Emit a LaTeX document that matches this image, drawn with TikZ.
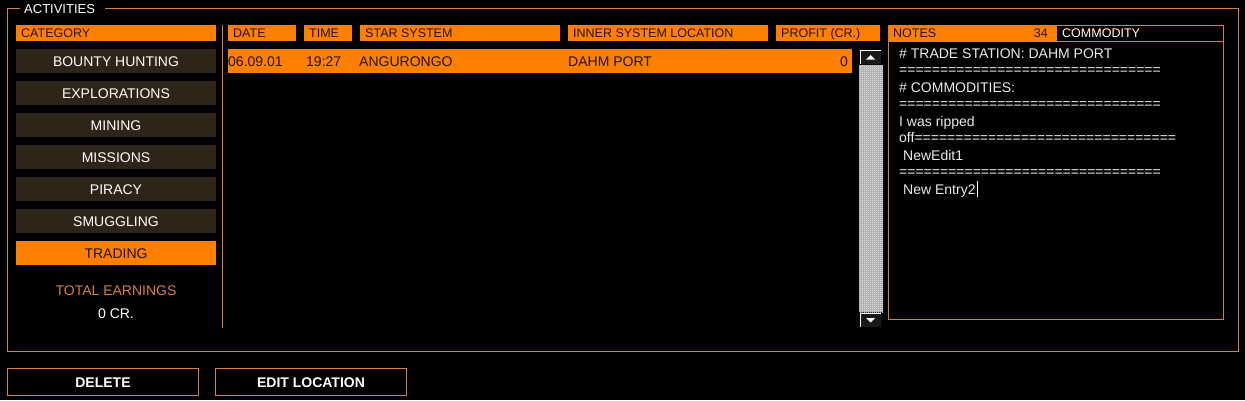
\documentclass[tikz,border=0pt]{standalone}
\usepackage{fontspec}
\setmainfont{Liberation Sans}
\usetikzlibrary{patterns}

% fine 1pt checker for the scroll track
\pgfdeclarepatternformonly{finechecker}{\pgfpointorigin}{\pgfqpoint{2pt}{2pt}}{\pgfqpoint{2pt}{2pt}}{%
  \pgfpathrectangle{\pgfpointorigin}{\pgfqpoint{1pt}{1pt}}%
  \pgfpathrectangle{\pgfqpoint{1pt}{1pt}}{\pgfqpoint{1pt}{1pt}}%
  \pgfusepath{fill}}

\newcommand{\eqrow}{================================}

\begin{document}
\begin{tikzpicture}[x=1pt, y=-1pt,
  txt/.style={inner sep=0pt, text height=10pt, text depth=0pt, font=\fontsize{14}{16}\selectfont},
  hdr/.style={txt, text height=9pt, font=\fontsize{12.5}{14}\selectfont, text=ink},
  note/.style={txt, anchor=west, text=paper},
  catbox/.style={txt, minimum width=200, minimum height=24, fill=bark, text=white},
  button/.style={txt, minimum width=191, minimum height=27, draw=rim, fill=black, text=white, font=\bfseries\fontsize{14}{16}\selectfont},
  rimline/.style={draw=rim, line width=1pt}]
\definecolor{rim}{HTML}{D8803A}
\definecolor{amber}{HTML}{FF8000}
\definecolor{bark}{HTML}{2E2418}
\definecolor{ink}{HTML}{1E1205}
\definecolor{paper}{HTML}{EAEAEA}
\useasboundingbox (0,0) rectangle (1245,400);
\fill[black] (0,0) rectangle (1245,400);

% outer frame with title
\node[txt, anchor=west, text=white, text height=9.3pt, font=\fontsize{13}{15}\selectfont] (title) at (24,9) {ACTIVITIES};
\draw[rimline] ([xshift=-4pt]title.west |- 0,8.5) -- (7.5,8.5) -- (7.5,351) -- (1238.5,351) -- (1238.5,8.5) -- ([xshift=10pt]title.east |- 0,8.5);

% category column
\fill[amber] (16,25) rectangle (216,41);
\node[hdr, anchor=west] (cathead) at (21,33) {CATEGORY};
\node[catbox] (bounty) at (116,61) {BOUNTY HUNTING};
\node[catbox] (explore) at (116,93) {EXPLORATIONS};
\node[catbox] (mining) at (116,125) {MINING};
\node[catbox] (missions) at (116,157) {MISSIONS};
\node[catbox] (piracy) at (116,189) {PIRACY};
\node[catbox] (smuggling) at (116,221) {SMUGGLING};
\node[catbox, fill=amber, text=ink] (trading) at (116,253) {TRADING};
\node[txt, text=rim] (earnings) at (116,290) {TOTAL EARNINGS};
\node[txt, text=white] (credits) at (116,313) {0 CR.};
\draw[rimline] (222.5,25) -- (222.5,328);

% table headers
\fill[amber] (228,25) rectangle (296,41);
\node[hdr, anchor=west] (datehead) at (233,33) {DATE};
\fill[amber] (304,25) rectangle (352,41);
\node[hdr, anchor=west] (timehead) at (309,33) {TIME};
\fill[amber] (360,25) rectangle (560,41);
\node[hdr, anchor=west] (systemhead) at (365,33) {STAR SYSTEM};
\fill[amber] (568,25) rectangle (768,41);
\node[hdr, anchor=west] (locationhead) at (573,33) {INNER SYSTEM LOCATION};
\fill[amber] (776,25) rectangle (880,41);
\node[hdr, anchor=west] (profithead) at (781,33) {PROFIT (CR.)};

% the one entry
\fill[amber] (228,49) rectangle (852,73);
\node[txt, anchor=west, text=ink] (date) at (228,61) {06.09.01};
\node[txt, anchor=west, text=ink] (time) at (306,61) {19:27};
\node[txt, anchor=west, text=ink] (system) at (359,61) {ANGURONGO};
\node[txt, anchor=west, text=ink] (location) at (568,61) {DAHM PORT};
\node[txt, anchor=east, text=ink] (profit) at (848,61) {0};

% scroll bar
\fill[black!35!white] (859,65) rectangle (883,312);
\fill[pattern=finechecker, pattern color=white] (859,65) rectangle (883,312);
\fill[black!90!white] (860,50) rectangle (881,64);
\draw[white] (860.5,64) -- (860.5,50.5) -- (881,50.5);
\fill[white] (866,59.5) -- (875,59.5) -- (870.5,55) -- cycle;
\fill[black!90!white] (860,313) rectangle (881,327);
\draw[white] (860.5,327) -- (860.5,313.5) -- (881,313.5);
\fill[white] (866,318) -- (875,318) -- (870.5,322.5) -- cycle;

% notes panel
\fill[amber] (888,25) rectangle (1057,41);
\node[hdr, anchor=west] (noteshead) at (893,33) {NOTES};
\node[hdr, anchor=east] (count) at (1048,33) {34};
\node[hdr, anchor=west, text=white] (commodity) at (1062,33) {COMMODITY};
\draw[rimline] (888.5,25.5) rectangle (1223.5,41);
\draw[rimline] (888.5,25.5) rectangle (1223.5,319.5);
\node[note] (station) at (899,53) {\# TRADE STATION: DAHM PORT};
\node[note] (rule1) at (899,69) {\eqrow};
\node[note] (goods) at (899,87) {\# COMMODITIES:};
\node[note] (rule2) at (899,103) {\eqrow};
\node[note] (ripped) at (899,121) {I was ripped};
\node[note] (off) at (899,137) {off\eqrow};
\node[note] (edit) at (903,155) {NewEdit1};
\node[note] (rule3) at (899,171) {\eqrow};
\node[note] (entry) at (903,189) {New Entry2};
\draw[white] ([xshift=1.5pt]entry.east) ++(0,-8) -- ++(0,16);

% buttons
\node[button] (delete) at (103,382) {DELETE};
\node[button] (editloc) at (311,382) {EDIT LOCATION};
\end{tikzpicture}
\end{document}
